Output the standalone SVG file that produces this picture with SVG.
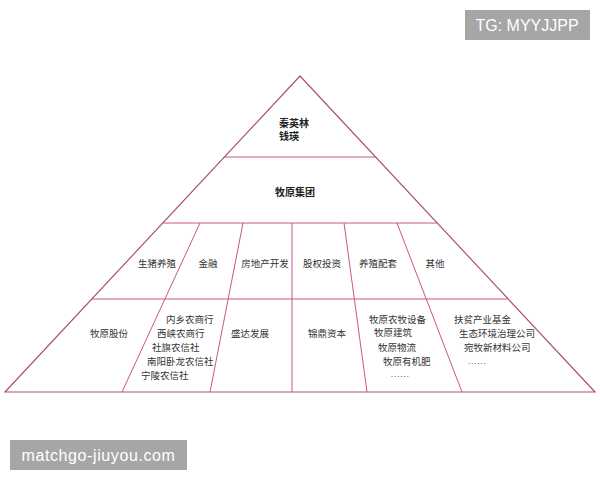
<svg xmlns="http://www.w3.org/2000/svg" width="600" height="480" viewBox="0 0 600 480">
<style>
.t{font-family:"Noto Sans CJK SC","Noto Sans",sans-serif;font-size:9.5px;fill:#333}
.b{font-weight:bold;font-size:10px;fill:#222}
.d{font-size:7px;letter-spacing:1.2px}
.ln{stroke:#c85a78;stroke-width:1;fill:none}
.out{stroke:#a85468;stroke-width:1.2;fill:none}
.wm{fill:#a6a6a6}
.wt{font-family:"Liberation Sans",Arial,sans-serif;font-size:16px;fill:#fff}
</style>
<rect width="600" height="480" fill="#fff"/>
<g id="connectors">
<polygon class="out" points="300,76 595,392 5,392"/>
<line class="ln" x1="224.5" y1="157" x2="375.5" y2="157"/>
<line class="ln" x1="162" y1="223" x2="438" y2="223"/>
<line class="ln" x1="92" y1="299" x2="508" y2="299"/>
<line class="ln" x1="200" y1="223" x2="122" y2="392"/>
<line class="ln" x1="243" y1="223" x2="210" y2="392"/>
<line class="ln" x1="292" y1="223" x2="292" y2="392"/>
<line class="ln" x1="344" y1="223" x2="367" y2="392"/>
<line class="ln" x1="397" y1="223" x2="462" y2="392"/>
</g>
<g id="founders"><text class="t b" x="279" y="126.5">秦英林</text><text class="t b" x="279" y="140">钱瑛</text></g>
<g id="group"><text class="t b" x="275" y="196">牧原集团</text></g>
<g id="pig"><text class="t" x="157" y="267" text-anchor="middle">生猪养殖</text></g>
<g id="finance"><text class="t" x="208" y="267" text-anchor="middle">金融</text></g>
<g id="realestate"><text class="t" x="265" y="267" text-anchor="middle">房地产开发</text></g>
<g id="equity"><text class="t" x="322" y="267" text-anchor="middle">股权投资</text></g>
<g id="support"><text class="t" x="378" y="267" text-anchor="middle">养殖配套</text></g>
<g id="other"><text class="t" x="435" y="267" text-anchor="middle">其他</text></g>
<g id="muyuan"><text class="t" x="109" y="337" text-anchor="middle">牧原股份</text></g>
<g id="banks">
<text class="t" x="166" y="322.5">内乡农商行</text>
<text class="t" x="157" y="337">西峡农商行</text>
<text class="t" x="152" y="351">社旗农信社</text>
<text class="t" x="147" y="365">南阳卧龙农信社</text>
<text class="t" x="141" y="379">宁陵农信社</text>
</g>
<g id="shengda"><text class="t" x="250" y="337" text-anchor="middle">盛达发展</text></g>
<g id="jinding"><text class="t" x="327" y="337" text-anchor="middle">锦鼎资本</text></g>
<g id="support-cos">
<text class="t" x="369" y="322.5">牧原农牧设备</text>
<text class="t" x="374" y="336">牧原建筑</text>
<text class="t" x="378" y="351">牧原物流</text>
<text class="t" x="383" y="365">牧原有机肥</text>
<text class="t d" x="391" y="377">......</text>
</g>
<g id="other-cos">
<text class="t" x="454" y="322.5">扶贫产业基金</text>
<text class="t" x="459" y="337">生态环境治理公司</text>
<text class="t" x="464" y="351">宛牧新材料公司</text>
<text class="t d" x="468" y="363.5">......</text>
</g>
<g id="wm1"><rect class="wm" x="465" y="10" width="125" height="30"/><text class="wt" x="527" y="31" text-anchor="middle">TG: MYYJJPP</text></g>
<g id="wm2"><rect class="wm" x="10" y="440" width="177" height="30"/><text class="wt" x="98.5" y="461" text-anchor="middle" letter-spacing="0.6">matchgo-jiuyou.com</text></g>
</svg>
